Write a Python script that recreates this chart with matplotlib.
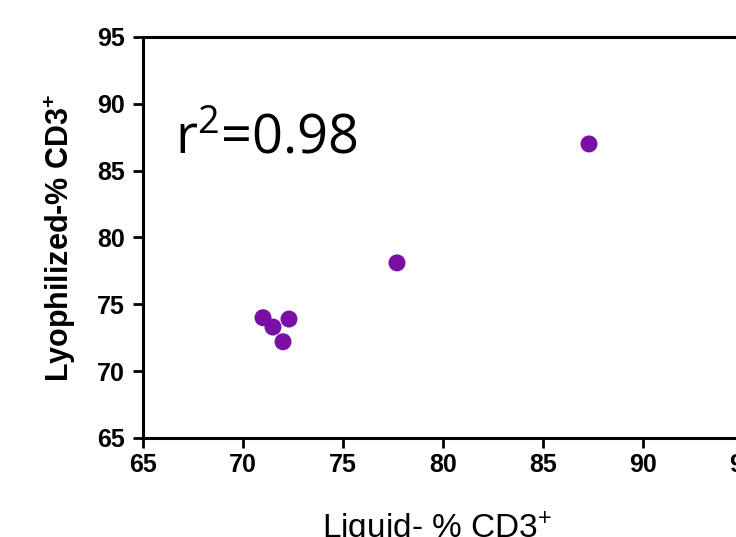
import numpy as np
import matplotlib
matplotlib.use('Agg')
import matplotlib.pyplot as plt

liquid = [71.0, 71.5, 72.3, 72.0, 77.7, 87.3]
lyophilized = [74.0, 73.3, 73.9, 72.2, 78.1, 87.0]
ticks = [65, 70, 75, 80, 85, 90, 95]

plt.rcParams['font.family'] = ['Liberation Sans', 'DejaVu Sans']
plt.rcParams['mathtext.default'] = 'regular'

fig = plt.figure(figsize=(7.36, 5.37), dpi=100)
ax = fig.add_axes([143/736, 99/537, 600/736, 401/537])

ax.scatter(liquid, lyophilized, s=150, color='#7a0fa6', edgecolors='none', zorder=3, clip_on=False)

ax.set_xlim(65, 95)
ax.set_ylim(65, 95)
ax.set_xticks(ticks)
ax.set_yticks(ticks)

for sp in ax.spines.values():
    sp.set_linewidth(2.2)
ax.tick_params('both', direction='out', length=7, width=2, labelsize=18)
ax.tick_params('y', pad=6)
ax.tick_params('x', pad=4)
for lab in ax.get_xticklabels() + ax.get_yticklabels():
    lab.set_fontweight('bold')

ax.set_ylabel(r'Lyophilized-% CD3$^{+}$', fontsize=22, fontweight='bold')
ax.yaxis.set_label_coords(-0.108, 0.5)
ax.set_xlabel(r'Liquid- % CD3$^{+}$', fontsize=24)
ax.xaxis.set_label_coords(0.49, -0.178)

ax.text(0.053, 0.71, r'r$^{2}$=0.98', transform=ax.transAxes, fontsize=39,
        family=['Open Sans', 'DejaVu Sans'], ha='left', va='baseline')

fig.savefig('out.png', dpi=100)
